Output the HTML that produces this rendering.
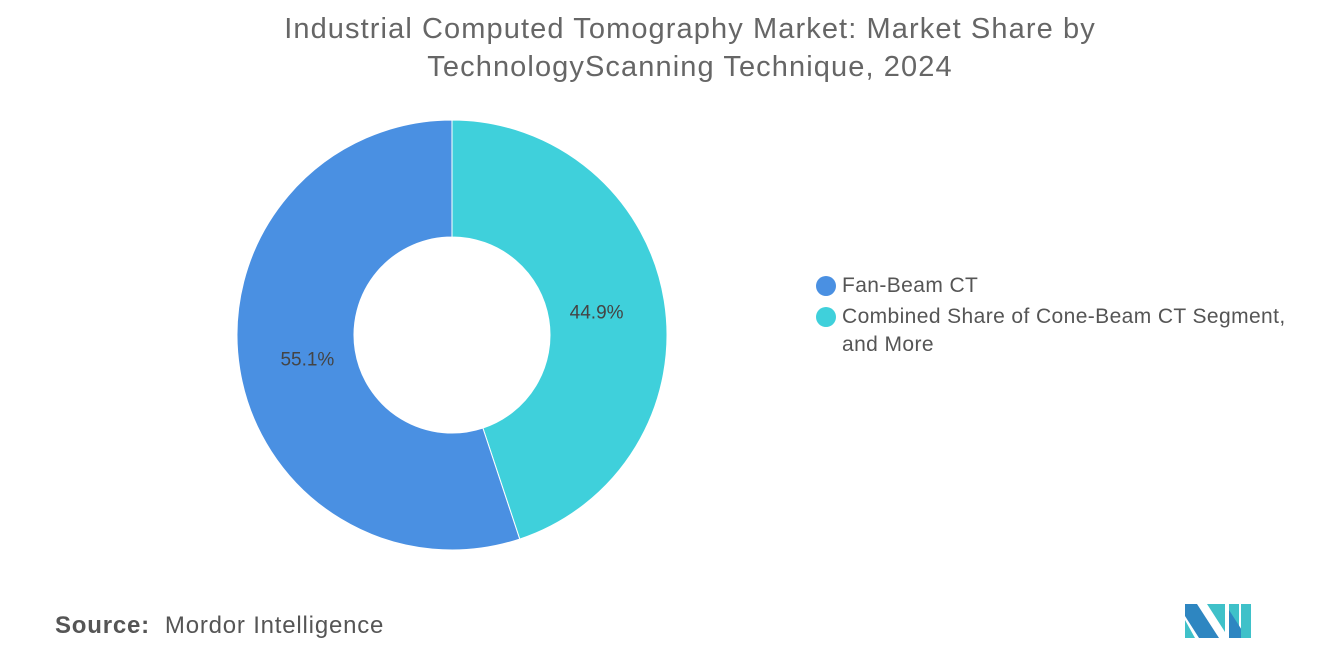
<!DOCTYPE html>
<html><head><meta charset="utf-8"><style>
body{margin:0;width:1320px;height:665px;background:#fff;font-family:"Liberation Sans",sans-serif;overflow:hidden;position:relative}
.t{position:absolute;left:0;width:1380px;text-align:center;color:#666;font-size:29px;letter-spacing:1.1px;line-height:38px;top:10px}
.leg{position:absolute;left:816px;font-size:21px;letter-spacing:0.4px;color:#555;line-height:28px}
.dot{position:absolute;left:0;top:4px;width:20px;height:20px;border-radius:50%}
</style></head><body>
<div class="t">Industrial Computed Tomography Market: Market Share by<br>TechnologyScanning Technique, 2024</div>
<svg id="chart" width="1320" height="665" style="position:absolute;left:0;top:0"></svg>
<div class="leg" style="top:272px"><span class="dot" style="background:#4a90e2"></span><span style="padding-left:26px">Fan-Beam CT</span></div>
<div class="leg" style="top:303px"><span class="dot" style="background:#3fd0db"></span><div style="padding-left:26px">Combined Share of Cone-Beam CT Segment,<br>and More</div></div>
<div style="position:absolute;left:55px;top:612px;font-size:24px;letter-spacing:0.8px;color:#555"><b style="font-weight:bold">Source:</b>&nbsp; Mordor Intelligence</div>
<svg style="position:absolute;left:1185px;top:604px" width="66" height="34">
<polygon points="0,0 12,0 34,34 14,34 0,12" fill="#2e86c1"/><polygon points="0,16 10,34 0,34" fill="#3fc1c9"/>
<polygon points="22,0 40,0 40,28" fill="#3fc1c9"/><polygon points="44,0 54,0 54,34 44,34 44,20" fill="#3fc1c9"/><polygon points="44,6 44,34 62,34" fill="#2e86c1"/><rect x="56" y="0" width="10" height="34" fill="#3fc1c9"/>
</svg>
<script>
const categories=["Fan-Beam CT","Combined Share of Cone-Beam CT Segment, and More"];
const values=[55.1,44.9];
const colors=["#4a90e2","#3fd0db"];
const svg=document.getElementById('chart');
const cx=452,cy=335,R=215,r=98;
const total=values.reduce((a,b)=>a+b,0);
function pt(a,rad){return [cx+rad*Math.sin(a),cy-rad*Math.cos(a)];}
let start=0;
const order=[1,0];
order.forEach(i=>{
  const sweep=values[i]/total*2*Math.PI,end=start+sweep,large=sweep>Math.PI?1:0;
  const [x1,y1]=pt(start,R),[x2,y2]=pt(end,R),[x3,y3]=pt(end,r),[x4,y4]=pt(start,r);
  const p=document.createElementNS('http://www.w3.org/2000/svg','path');
  p.setAttribute('d',`M${x1},${y1}A${R},${R} 0 ${large} 1 ${x2},${y2}L${x3},${y3}A${r},${r} 0 ${large} 0 ${x4},${y4}Z`);
  p.setAttribute('fill',colors[i]);p.setAttribute('stroke','#fff');p.setAttribute('stroke-width','1');
  
  
  svg.appendChild(p);
  const mid=start+sweep/2,[lx,ly]=pt(mid,(R+r)/2-10);
  const t=document.createElementNS('http://www.w3.org/2000/svg','text');
  t.setAttribute('x',lx);t.setAttribute('y',ly+7);t.setAttribute('text-anchor','middle');
  t.setAttribute('font-size','19');t.setAttribute('fill','#444');t.setAttribute('font-family','Liberation Sans, sans-serif');
  t.textContent=values[i].toFixed(1)+'%';
  
  
  svg.appendChild(t);
  start=end;
});
</script>
</body></html>
